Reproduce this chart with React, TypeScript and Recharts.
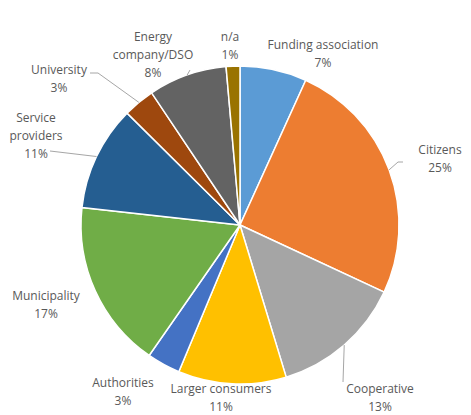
import React from "react";
import { PieChart, Pie, Cell } from "recharts";

const categories = [
  "Funding association",
  "Citizens",
  "Cooperative",
  "Larger consumers",
  "Authorities",
  "Municipality",
  "Service providers",
  "University",
  "Energy company/DSO",
  "n/a",
];
const shares = [6.8, 25.2, 13.4, 11.0, 3.4, 17.1, 10.7, 3.2, 8.0, 1.4];
const percentLabels = ["7%", "25%", "13%", "11%", "3%", "17%", "11%", "3%", "8%", "1%"];
const colors = [
  "#5B9BD5",
  "#ED7D31",
  "#A5A5A5",
  "#FFC000",
  "#4472C4",
  "#70AD47",
  "#255E91",
  "#9E480E",
  "#636363",
  "#997300",
];

const data = categories.map((name, i) => ({ name, value: shares[i], pct: percentLabels[i] }));

// label layout: text lines, center x, first-line baseline y, optional leader elbow points
type LabelLayout = { lines: string[]; x: number; y: number; leader?: number[][] };
const layout: Record<string, LabelLayout> = {
  "Funding association": { lines: ["Funding association"], x: 315, y: 41 },
  Citizens: { lines: ["Citizens"], x: 432, y: 146, leader: [[390, 154], [395, 154]] },
  Cooperative: { lines: ["Cooperative"], x: 372, y: 385, leader: [[335, 374]] },
  "Larger consumers": { lines: ["Larger consumers"], x: 213, y: 385 },
  Authorities: { lines: ["Authorities"], x: 115, y: 379 },
  Municipality: { lines: ["Municipality"], x: 38, y: 292 },
  "Service providers": { lines: ["Service", "providers"], x: 28, y: 114, leader: [[42, 143]] },
  University: { lines: ["University"], x: 51, y: 66, leader: [[90, 65], [82, 65]] },
  "Energy company/DSO": { lines: ["Energy", "company/DSO"], x: 145, y: 33, leader: [[182, 62]] },
  "n/a": { lines: ["n/a"], x: 222, y: 33 },
};

const RAD = Math.PI / 180;
const LINE_H = 18;

const renderLabel = (props: any) => {
  const { cx, cy, outerRadius, midAngle, payload } = props;
  const name = payload?.name ?? props.name;
  const l = layout[name];
  if (!l) return null;
  const ex = cx + outerRadius * Math.cos(-midAngle * RAD);
  const ey = cy + outerRadius * Math.sin(-midAngle * RAD);
  const lines = [...l.lines, payload?.pct ?? props.pct];
  let path: string | null = null;
  if (l.leader) {
    const pts = [[ex, ey], ...l.leader];
    path = pts.map((p, i) => `${i === 0 ? "M" : "L"}${p[0]},${p[1]}`).join(" ");
  }
  return (
    <g>
      {path && <path d={path} stroke="#A6A6A6" strokeWidth={1} fill="none" />}
      <text
        x={l.x}
        y={l.y}
        textAnchor="middle"
        fill="#595959"
        fontFamily="'Open Sans', sans-serif"
        fontSize={12}
      >
        {lines.map((t, i) => (
          <tspan key={i} x={l.x} dy={i === 0 ? 0 : LINE_H}>
            {t}
          </tspan>
        ))}
      </text>
    </g>
  );
};

export default function App() {
  return (
    <div style={{ width: 463, height: 407, background: "#fff" }}>
      <PieChart width={463} height={407} margin={{ top: 0, right: 0, bottom: 0, left: 0 }}>
        <Pie
          data={data}
          dataKey="value"
          nameKey="name"
          cx={232}
          cy={217}
          outerRadius={159}
          startAngle={90}
          endAngle={-270}
          stroke="#FFFFFF"
          strokeWidth={1.5}
          label={renderLabel}
          labelLine={false}
          isAnimationActive={false}
        >
          {data.map((d, i) => (
            <Cell key={d.name} fill={colors[i]} />
          ))}
        </Pie>
      </PieChart>
    </div>
  );
}
